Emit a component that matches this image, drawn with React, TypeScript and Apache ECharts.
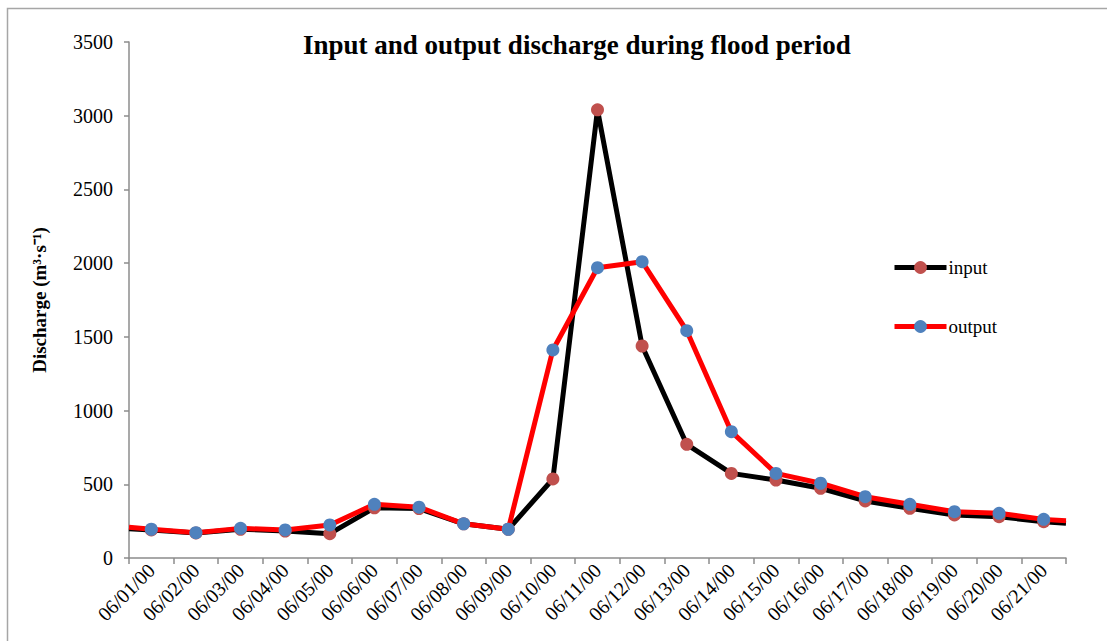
import React, { useEffect, useRef } from "react";
import * as echarts from "echarts";

const dates = [
  "06/01/00", "06/02/00", "06/03/00", "06/04/00", "06/05/00", "06/06/00", "06/07/00",
  "06/08/00", "06/09/00", "06/10/00", "06/11/00", "06/12/00", "06/13/00", "06/14/00",
  "06/15/00", "06/16/00", "06/17/00", "06/18/00", "06/19/00", "06/20/00", "06/21/00",
];
const inputValues = [190, 170, 195, 183, 165, 340, 335, 232, 195, 536, 3040, 1438, 771, 574, 529, 473, 387, 337, 292, 280, 246];
const outputValues = [195, 172, 201, 190, 224, 364, 345, 232, 195, 1411, 1969, 2010, 1542, 857, 574, 507, 416, 364, 314, 303, 262];
// values where the lines meet the left and right plot edges
const inputEdges = [198, 235];
const outputEdges = [208, 253];
const yTicks = { min: 0, max: 3500, interval: 500 };

const FONT = "Liberation Serif";

function buildData(values: number[], edges: number[]) {
  const n = values.length;
  return [
    { value: [0, edges[0]], symbolSize: 0 },
    ...values.map((v, i) => ({ value: [i + 0.5, v] })),
    { value: [n, edges[1]], symbolSize: 0 },
  ];
}

export default function App() {
  const ref = useRef<HTMLDivElement>(null);
  useEffect(() => {
    if (!ref.current) return;
    const chart = echarts.init(ref.current, undefined, { renderer: "svg" });
    chart.setOption({
      animation: false,
      backgroundColor: "#ffffff",
      textStyle: { fontFamily: FONT, color: "#000" },
      title: {
        text: "Input and output discharge during flood period",
        left: 303,
        top: 31,
        padding: 0,
        textStyle: { fontFamily: FONT, fontWeight: "bold", fontSize: 27, color: "#000" },
      },
      graphic: [
        {
          type: "rect",
          shape: { x: 7.5, y: 8.5, width: 1200, height: 700 },
          style: { fill: "none", stroke: "#a6a6a6", lineWidth: 1.5 },
          silent: true,
        },
      ],
      legend: {
        orient: "vertical",
        left: 892,
        top: 258,
        itemGap: 40,
        itemWidth: 52,
        itemHeight: 16,
        padding: 0,
        lineStyle: { width: 5 },
        textStyle: { fontFamily: FONT, fontSize: 19, color: "#000", padding: [0, 0, 0, -3] },
        data: ["input", "output"],
      },
      grid: { left: 129, right: 41, top: 42, bottom: 83, containLabel: false },
      xAxis: [
        {
          type: "category",
          data: dates,
          boundaryGap: true,
          position: "bottom",
          axisLine: { lineStyle: { color: "#8c8c8c", width: 1.5 } },
          axisTick: { show: true, interval: 0, length: 6, lineStyle: { color: "#8c8c8c", width: 1.5 } },
          axisLabel: {
            interval: 0,
            rotate: 45,
            margin: 9,
            fontFamily: FONT,
            fontSize: 20,
            color: "#000",
          },
          splitLine: { show: false },
        },
        {
          type: "value",
          min: 0,
          max: dates.length,
          show: false,
          splitLine: { show: false },
        },
      ],
      yAxis: {
        type: "value",
        min: yTicks.min,
        max: yTicks.max,
        interval: yTicks.interval,
        name: "Discharge (m³·s⁻¹)",
        nameLocation: "middle",
        nameRotate: 90,
        nameGap: 80,
        nameTextStyle: { fontFamily: FONT, fontWeight: "bold", fontSize: 19, color: "#000" },
        axisLine: { show: true, lineStyle: { color: "#8c8c8c", width: 1.5 } },
        axisTick: { show: true, length: 5, lineStyle: { color: "#8c8c8c", width: 1.5 } },
        axisLabel: {
          fontFamily: FONT,
          fontSize: 20,
          color: "#000",
          margin: 16,
          formatter: (v: number) => String(v),
        },
        splitLine: { show: false },
      },
      series: [
        {
          name: "input",
          type: "line",
          xAxisIndex: 1,
          data: buildData(inputValues, inputEdges),
          symbol: "circle",
          symbolSize: 13,
          showAllSymbol: true,
          lineStyle: { color: "#000000", width: 5 },
          itemStyle: { color: "#c0504d" },
        },
        {
          name: "output",
          type: "line",
          xAxisIndex: 1,
          data: buildData(outputValues, outputEdges),
          symbol: "circle",
          symbolSize: 13,
          showAllSymbol: true,
          lineStyle: { color: "#ff0000", width: 5 },
          itemStyle: { color: "#4f81bd" },
        },
      ],
    });
    return () => chart.dispose();
  }, []);
  return (
    <div
      ref={ref}
      style={{ position: "fixed", left: 0, top: 0, width: 1107, height: 641, background: "#fff" }}
    />
  );
}
